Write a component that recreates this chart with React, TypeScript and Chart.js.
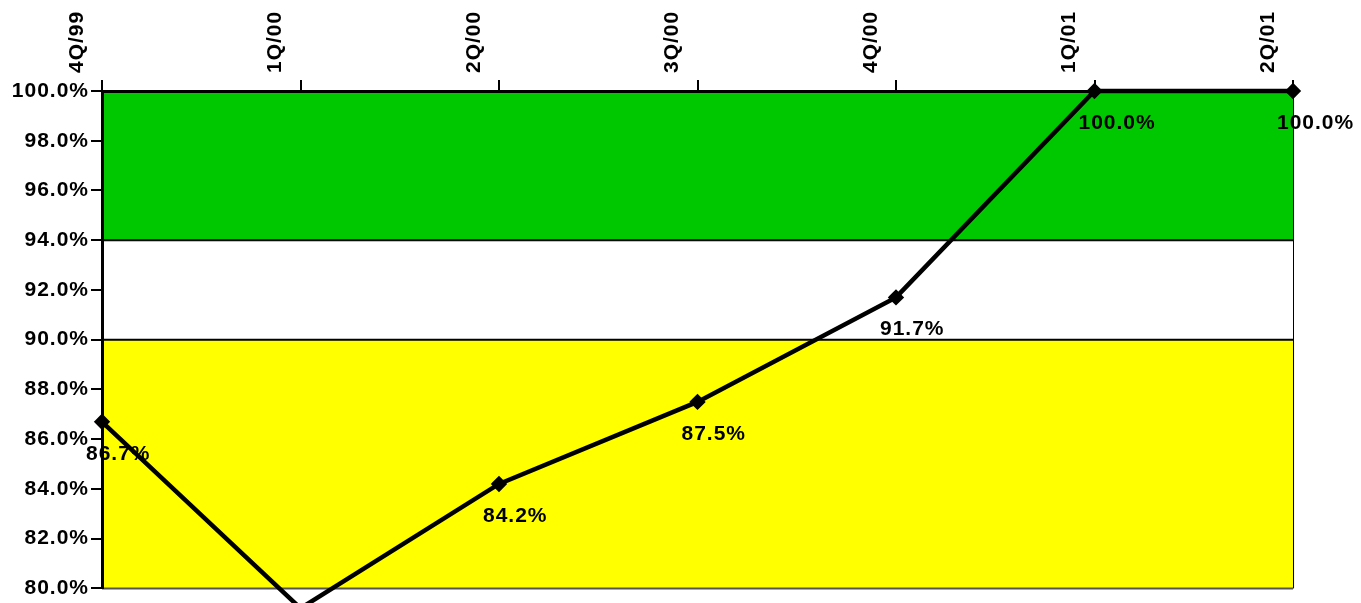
import React, { useEffect, useRef } from "react";
import { Chart, registerables } from "chart.js";

Chart.register(...registerables);

const categories = ["4Q/99", "1Q/00", "2Q/00", "3Q/00", "4Q/00", "1Q/01", "2Q/01"];
const values = [86.7, 79.2, 84.2, 87.5, 91.7, 100.0, 100.0];
const bands = [
  { from: 94, to: 100, color: "#00C800" },
  { from: 90, to: 94, color: "#FFFFFF" },
  { from: 80, to: 90, color: "#FFFF00" },
];
const bandLines = [90, 94];

const FONT = '"Liberation Sans", Arial, sans-serif';

const bandPlugin = {
  id: "bands",
  beforeDraw(chart: any) {
    const { ctx, chartArea, scales } = chart;
    (ctx as any).letterSpacing = "1px";
    const y = scales.y;
    ctx.save();
    bands.forEach((b) => {
      const top = y.getPixelForValue(b.to);
      const bot = y.getPixelForValue(b.from);
      ctx.fillStyle = b.color;
      ctx.fillRect(chartArea.left, top, chartArea.right - chartArea.left, bot - top);
    });
    ctx.strokeStyle = "#000";
    ctx.lineWidth = 2;
    bandLines.forEach((v) => {
      const py = y.getPixelForValue(v);
      ctx.beginPath();
      ctx.moveTo(chartArea.left, py);
      ctx.lineTo(chartArea.right, py);
      ctx.stroke();
    });
    ctx.lineWidth = 1;
    ctx.beginPath();
    ctx.moveTo(chartArea.right + 0.5, chartArea.top);
    ctx.lineTo(chartArea.right + 0.5, chartArea.bottom);
    ctx.stroke();
    ctx.strokeStyle = "#555";
    ctx.lineWidth = 2;
    ctx.beginPath();
    ctx.moveTo(chartArea.left, chartArea.bottom);
    ctx.lineTo(chartArea.right, chartArea.bottom);
    ctx.stroke();
    ctx.restore();
  },
};

const labelPlugin = {
  id: "valueLabels",
  afterDatasetsDraw(chart: any) {
    const { ctx } = chart;
    const meta = chart.getDatasetMeta(0);
    ctx.save();
    (ctx as any).letterSpacing = "1px";
    ctx.font = `bold 21px ${FONT}`;
    ctx.fillStyle = "#000";
    ctx.textAlign = "left";
    ctx.textBaseline = "middle";
    meta.data.forEach((pt: any, i: number) => {
      ctx.fillText(values[i].toFixed(1) + "%", pt.x - 16, pt.y + 32);
    });
    ctx.restore();
  },
};

export default function App() {
  const ref = useRef<HTMLCanvasElement>(null);
  useEffect(() => {
    document.body.style.margin = "0";
    const chart = new Chart(ref.current!, {
      type: "line",
      data: {
        labels: categories,
        datasets: [
          {
            data: values,
            borderColor: "#000",
            backgroundColor: "#000",
            borderWidth: 4.5,
            pointStyle: "rectRot",
            pointRadius: 5,
            pointBackgroundColor: "#000",
            pointBorderColor: "#000",
            tension: 0,
            clip: false as any,
          },
        ],
      },
      options: {
        animation: false,
        responsive: true,
        maintainAspectRatio: false,
        devicePixelRatio: 1,
        layout: { padding: { left: 0, top: 0, right: 68, bottom: 12 } },
        plugins: { legend: { display: false }, tooltip: { enabled: false } },
        scales: {
          x: {
            position: "top",
            offset: false,
            afterFit(scale: any) {
              scale.height = 91;
            },
            grid: {
              drawOnChartArea: false,
              drawTicks: true,
              tickLength: 11,
              color: "#000",
              lineWidth: 2,
            },
            border: { display: true, color: "#000", width: 3 },
            ticks: {
              maxRotation: 90,
              minRotation: 90,
              padding: 7,
              color: "#000",
              font: { family: FONT, size: 21, weight: "bold" },
            },
          },
          y: {
            min: 80,
            max: 100,
            afterFit(scale: any) {
              scale.width = 102;
            },
            grid: {
              drawOnChartArea: false,
              drawTicks: true,
              tickLength: 11,
              color: "#000",
              lineWidth: 2,
            },
            border: { display: true, color: "#000", width: 3 },
            ticks: {
              stepSize: 2,
              padding: 2,
              color: "#000",
              font: { family: FONT, size: 21, weight: "bold" },
              callback: (v: any) => Number(v).toFixed(1) + "%",
            },
          },
        },
      },
      plugins: [bandPlugin, labelPlugin],
    });
    return () => chart.destroy();
  }, []);
  return (
    <div style={{ position: "absolute", left: 0, top: 0, width: 1361, height: 603 }}>
      <canvas ref={ref} />
    </div>
  );
}
